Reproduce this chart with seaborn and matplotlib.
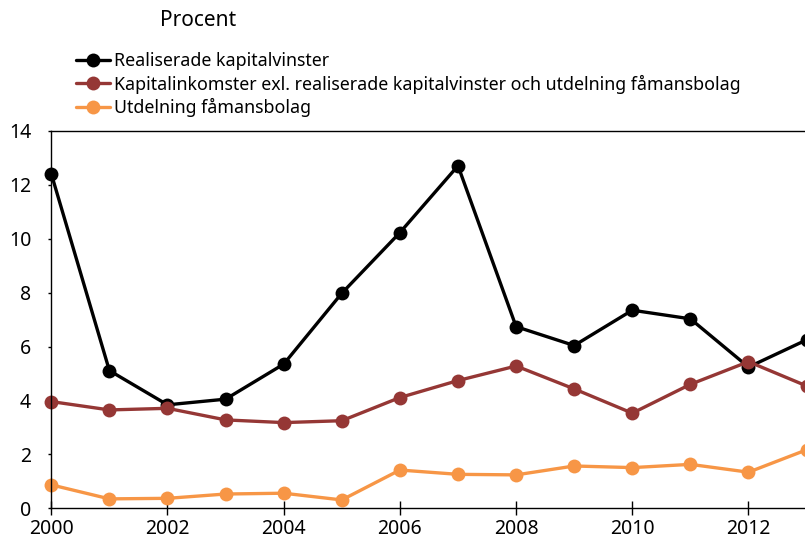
import pandas as pd
import seaborn as sns
import matplotlib.pyplot as plt

# data
years = list(range(2000, 2014))
realiserade = [12.41, 5.11, 3.84, 4.05, 5.35, 7.98, 10.23, 12.71, 6.74, 6.04, 7.35, 7.03, 5.24, 6.25]
kapitalinkomster = [3.96, 3.65, 3.71, 3.28, 3.18, 3.25, 4.11, 4.74, 5.28, 4.43, 3.53, 4.60, 5.44, 4.54]
utdelning = [0.87, 0.35, 0.37, 0.53, 0.56, 0.31, 1.42, 1.26, 1.24, 1.57, 1.51, 1.63, 1.34, 2.17]

series_names = [
    "Realiserade kapitalvinster",
    "Kapitalinkomster exl. realiserade kapitalvinster och utdelning fåmansbolag",
    "Utdelning fåmansbolag",
]
colors = ["#000000", "#953735", "#F79646"]

df = pd.concat([
    pd.DataFrame({"year": years, "value": realiserade, "serie": series_names[0]}),
    pd.DataFrame({"year": years, "value": kapitalinkomster, "serie": series_names[1]}),
    pd.DataFrame({"year": years, "value": utdelning, "serie": series_names[2]}),
])

sns.set_style("ticks")
# narrow font like the reference
plt.rcParams['font.family'] = ['Noto Sans', 'DejaVu Sans']
plt.rcParams['font.stretch'] = 'condensed'
plt.rcParams['text.color'] = 'black'
plt.rcParams['xtick.color'] = 'black'
plt.rcParams['ytick.color'] = 'black'

fig = plt.figure(figsize=(8.05, 5.46), dpi=100)
ax = fig.add_axes([51.3 / 805, (546 - 508.3) / 546, 755.3 / 805, 377.3 / 546])

sns.lineplot(data=df, x="year", y="value", hue="serie", palette=colors,
             marker="o", markersize=10, markeredgewidth=0, linewidth=2.4,
             ax=ax, clip_on=False)

ax.set_xlim(2000, 2013)
ax.set_ylim(0, 14)
ax.set_xticks(range(2000, 2014, 2))
ax.set_yticks(range(0, 15, 2))
ax.set_xlabel("")
ax.set_ylabel("")
ax.tick_params(axis="x", direction="inout", length=10, width=1, labelsize=14, pad=3)
ax.tick_params(axis="y", direction="out", length=2.5, width=1, labelsize=14, pad=12)
for s in ["left", "bottom", "top"]:
    ax.spines[s].set_linewidth(1)
    ax.spines[s].set_color("black")
ax.spines["right"].set_visible(False)

fig.text(160 / 805, 1 - 20 / 546, "Procent", fontsize=15, va="center", ha="left")

ax.legend(loc="upper left", bbox_to_anchor=(76 / 805, 1 - 52 / 546),
          bbox_transform=fig.transFigure, frameon=False, fontsize=12.8,
          handlelength=1.9, handletextpad=0.25, labelspacing=0.25,
          borderpad=0, borderaxespad=0)

plt.savefig("out.png", dpi=100)
plt.close()
